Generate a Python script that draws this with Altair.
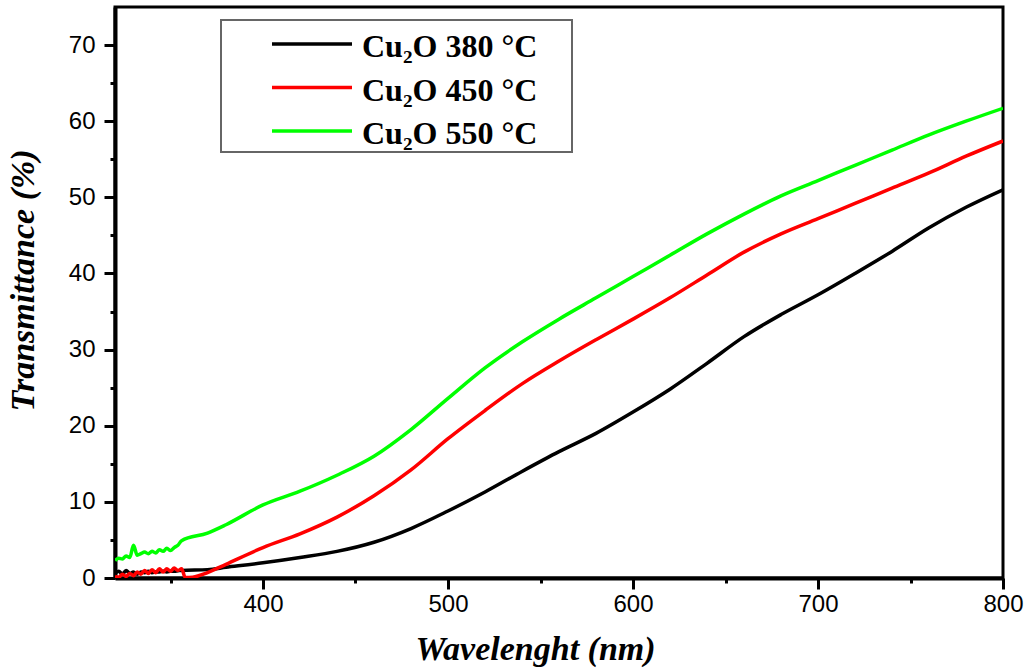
import altair as alt
import pandas as pd

# ---- data ----
x_380 = [320, 322, 324, 326, 328, 330, 332, 334, 336, 338, 340, 342, 344, 346, 348, 350, 352, 354, 356,
         370, 380, 400, 420, 440, 460, 480, 500, 520, 540, 560, 580, 600, 620, 640, 660, 680, 700,
         720, 740, 760, 780, 800]
y_380 = [0.6, 0.9, 0.5, 1.0, 0.6, 0.8, 0.5, 0.8, 0.7, 0.9, 0.7, 0.8, 0.8, 0.9, 0.8, 0.9, 0.9, 0.95, 1.0,
         1.1, 1.4, 2.0, 2.7, 3.5, 4.7, 6.5, 8.8, 11.3, 14.0, 16.6, 19.0, 21.8, 24.8, 28.2, 31.7, 34.6, 37.2,
         40.0, 42.9, 46.0, 48.7, 51.0]

x_450 = [320, 322, 324, 326, 328, 330, 332, 334, 336, 338, 340, 342, 344, 346, 348, 350, 352, 354, 356,
         358, 362, 370, 380, 400, 420, 440, 460, 480, 500, 520, 540, 560, 580, 600, 620, 640, 660, 680,
         700, 720, 740, 760, 780, 800]
y_450 = [0.2, 0.1, 0.5, 0.2, 0.6, 0.3, 0.8, 0.5, 1.0, 0.6, 1.1, 0.7, 1.2, 0.8, 1.2, 0.9, 1.3, 1.0, 1.2,
         0.05, 0.1, 0.7, 1.8, 4.0, 5.8, 8.0, 10.8, 14.2, 18.3, 22.0, 25.5, 28.5, 31.3, 34.0, 36.8, 39.8,
         42.8, 45.2, 47.2, 49.2, 51.2, 53.2, 55.4, 57.4]

x_550 = [320, 322, 324, 326, 328, 330, 332, 334, 336, 338, 340, 342, 344, 346, 348, 350, 352, 354, 356,
         370, 380, 400, 420, 440, 460, 480, 500, 520, 540, 560, 580, 600, 620, 640, 660, 680, 700,
         720, 740, 760, 780, 800]
y_550 = [2.3, 2.6, 2.5, 2.9, 2.7, 4.3, 3.0, 3.2, 3.4, 3.2, 3.5, 3.3, 3.7, 3.5, 3.9, 3.6, 4.0, 4.3, 4.9,
         5.9, 7.0, 9.6, 11.4, 13.5, 16.0, 19.5, 23.6, 27.6, 31.0, 34.0, 36.8, 39.6, 42.4, 45.2, 47.8,
         50.2, 52.2, 54.2, 56.2, 58.2, 60.0, 61.7]

series_labels = ["Cu\u2082O 380 °C", "Cu\u2082O 450 °C", "Cu\u2082O 550 °C"]
series_colors = ["#000000", "#FF0000", "#00FF00"]

x_major = [400, 500, 600, 700, 800]
x_minor = [350, 450, 550, 650, 750]
y_major = [0, 10, 20, 30, 40, 50, 60, 70]
y_minor = [5, 15, 25, 35, 45, 55, 65]

rows = []
for lab, xs, ys in zip(series_labels, [x_380, x_450, x_550], [y_380, y_450, y_550]):
    for i, (a, b) in enumerate(zip(xs, ys)):
        rows.append({"wl": a, "T": b, "series": lab, "order": i})
df = pd.DataFrame(rows)

W, H = 888, 571
xscale = alt.Scale(domain=[320, 800], nice=False, zero=False)
yscale = alt.Scale(domain=[0, 75], nice=False, zero=False)

title_font = "Liberation Serif"

lines = alt.Chart(df).mark_line(strokeWidth=3.5, clip=True, interpolate="monotone").encode(
    x=alt.X("wl:Q", scale=xscale,
            axis=alt.Axis(values=x_major, title="Wavelenght (nm)", labelFlush=False,
                          tickSize=11, tickWidth=3, domainWidth=4, labelFontSize=24,
                          labelFont="Liberation Sans", labelPadding=3, grid=False,
                          titleFont=title_font, titleFontStyle="italic", titleFontWeight="bold",
                          titleFontSize=34, titlePadding=16, titleX=420, orient="bottom")),
    y=alt.Y("T:Q", scale=yscale,
            axis=alt.Axis(values=y_major, title="Transmittance (%)", labelFlush=False,
                          tickSize=11, tickWidth=3, domainWidth=4, labelFontSize=24,
                          labelFont="Liberation Sans", labelPadding=9, grid=False,
                          titleFont=title_font, titleFontStyle="italic", titleFontWeight="bold",
                          titleFontSize=34, titlePadding=28, titleY=273, orient="left")),
    color=alt.Color("series:N", scale=alt.Scale(domain=series_labels, range=series_colors), legend=None),
    order="order:Q",
    detail="series:N",
)

minor = alt.Chart(df).mark_point(opacity=0).encode(
    x=alt.X("wl:Q", scale=xscale,
            axis=alt.Axis(values=x_minor, labels=False, title=None, tickSize=5, tickWidth=3,
                          domain=False, grid=False, orient="bottom")),
    y=alt.Y("T:Q", scale=yscale,
            axis=alt.Axis(values=y_minor, labels=False, title=None, tickSize=5, tickWidth=3,
                          domain=False, grid=False, orient="left")),
)

one = pd.DataFrame({"a": [0]})
legend_layers = [
    alt.Chart(one).mark_rect(fill="white", stroke="#666666", strokeWidth=2).encode(
        x=alt.value(106), x2=alt.value(457), y=alt.value(13), y2=alt.value(145))
]
for i, (lab, col) in enumerate(zip(series_labels, series_colors)):
    yy = 37 + i * 43.5
    legend_layers.append(
        alt.Chart(one).mark_rule(color=col, strokeWidth=3.5).encode(
            x=alt.value(157), x2=alt.value(237), y=alt.value(yy)))
    legend_layers.append(
        alt.Chart(one).mark_text(align="left", baseline="middle", font=title_font,
                                 fontWeight="bold", fontSize=32, color="black").encode(
            x=alt.value(247), y=alt.value(yy + 3), text=alt.value(lab)))

chart = alt.layer(lines, minor, *legend_layers).resolve_axis(x="independent", y="independent").properties(
    width=W, height=H, autosize="none",
    padding={"left": 115, "top": 7, "right": 27, "bottom": 90},
).configure_view(stroke="black", strokeWidth=3).configure_axis(
    domainColor="black", tickColor="black", labelColor="black", titleColor="black"
)

chart.save("out.html", embed_options={"renderer": "svg", "actions": False})
